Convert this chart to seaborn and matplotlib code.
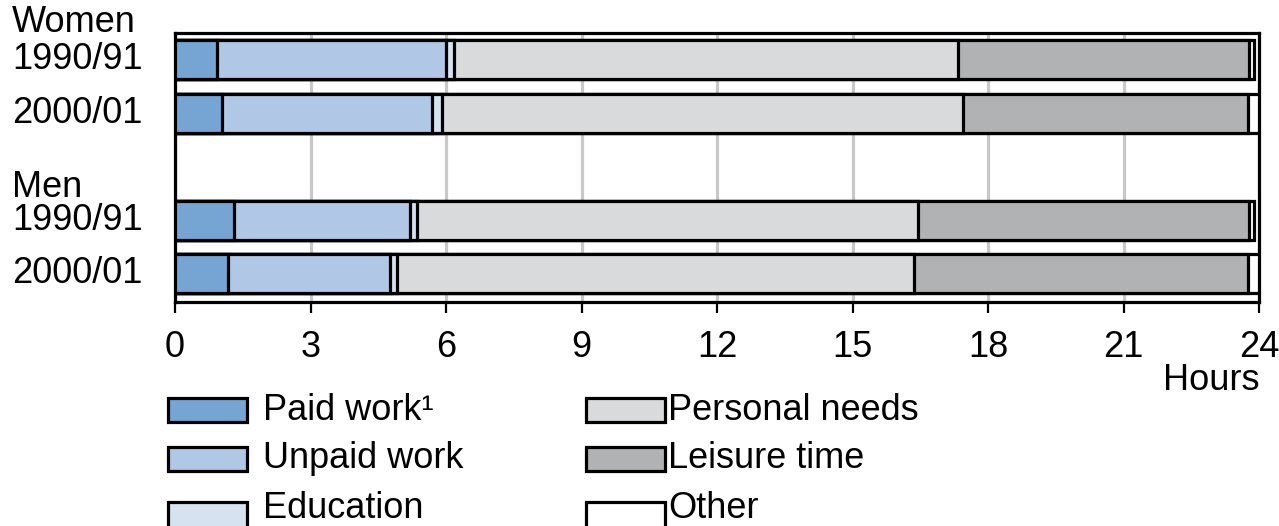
import numpy as np
import pandas as pd
import matplotlib
matplotlib.use("Agg")
import matplotlib.pyplot as plt
from matplotlib.patches import Rectangle
import seaborn as sns

# data (hours per day)
rows = ["Women 1990/91", "Women 2000/01", "", "Men 1990/91", "Men 2000/01"]
activities = ["Paid work", "Unpaid work", "Education", "Personal needs", "Leisure time", "Other"]
paid = [0.94, 1.05, 1.31, 1.18]
unpaid = [5.07, 4.63, 3.89, 3.59]
education = [0.16, 0.24, 0.16, 0.15]
personal = [11.17, 11.53, 11.10, 11.45]
leisure = [6.44, 6.31, 7.32, 7.39]
other = [0.12, 0.24, 0.12, 0.24]
colors = ["#76a5d4", "#b0c7e5", "#d6e2f0", "#d9dadc", "#b1b2b4", "#ffffff"]
legend_labels = ["Paid work\u00b9", "Unpaid work", "Education", "Personal needs", "Leisure time", "Other"]
xticks = list(range(0, 25, 3))

bar_rows = [r for r in rows if r]
df = pd.DataFrame({"row": bar_rows, "Paid work": paid, "Unpaid work": unpaid,
                   "Education": education, "Personal needs": personal,
                   "Leisure time": leisure, "Other": other})
cum = df[activities].cumsum(axis=1)

sns.set_style("white")
plt.rcParams['font.family'] = ['Liberation Sans Narrow', 'Liberation Sans', 'DejaVu Sans']
plt.rcParams['text.color'] = 'black'
plt.rcParams['xtick.color'] = 'black'
plt.rcParams['xtick.labelcolor'] = 'black'
FS = 26

fig = plt.figure(figsize=(12.79, 5.26), dpi=100)
ax = fig.add_axes([175/1279, 1-302/526, (1259-175)/1279, (302-33)/526])

# stacked bars: draw cumulative totals from the longest to the shortest
for act, col in reversed(list(zip(activities, colors))):
    sns.barplot(x=cum[act], y=df["row"], order=rows, orient="h", color=col,
                saturation=1, edgecolor="black", linewidth=2.3, width=0.73,
                ax=ax, zorder=3)

ax.set_xlim(0, 24)
ax.set_ylim(4.53, -0.505)
ax.set_xticks(xticks)
ax.set_xticklabels([str(t) for t in xticks], fontsize=FS)
ax.set_yticks([])
ax.set_xlabel("")
ax.set_ylabel("")
ax.grid(axis="x", color="#c8c8c8", linewidth=2.3, zorder=0)
ax.set_axisbelow(True)
ax.tick_params(axis="x", direction="out", length=8, width=1.6, color="black",
               pad=12, bottom=True)
for s in ax.spines.values():
    s.set_visible(True)
    s.set_color("black")
    s.set_linewidth(2.3)

# row labels
tr = matplotlib.transforms.blended_transform_factory(fig.transFigure, ax.transData)
ax.text(12/1279, -0.70, "Women", transform=tr, fontsize=FS, va="center", ha="left", clip_on=False)
ax.text(12/1279, 2.38, "Men", transform=tr, fontsize=FS, va="center", ha="left", clip_on=False)
for i, r in enumerate(rows):
    if r:
        ax.text(12/1279, i, r.split(" ")[1], transform=tr, fontsize=FS, va="center", ha="left", clip_on=False)

fig.text(1260/1279, 1-380/526, "Hours", fontsize=FS, ha="right", va="center")

# legend drawn by hand in two columns
col_x = [168, 586]
text_x = [263, 668]
row_y = [410, 459, 508]
for k, (lab, col) in enumerate(zip(legend_labels, colors)):
    c, r = divmod(k, 3)
    x0, yc = col_x[c], row_y[r]
    top = yc - 12 if r < 2 else yc - 6
    h = 24 if r < 2 else 30
    fig.add_artist(Rectangle((x0/1279, 1-(top+h)/526), 79/1279, h/526,
                             transform=fig.transFigure, facecolor=col,
                             edgecolor="black", linewidth=2.3))
    fig.text(text_x[c]/1279, 1-yc/526, lab, fontsize=FS, ha="left", va="center")

fig.savefig("out.png", dpi=100)
